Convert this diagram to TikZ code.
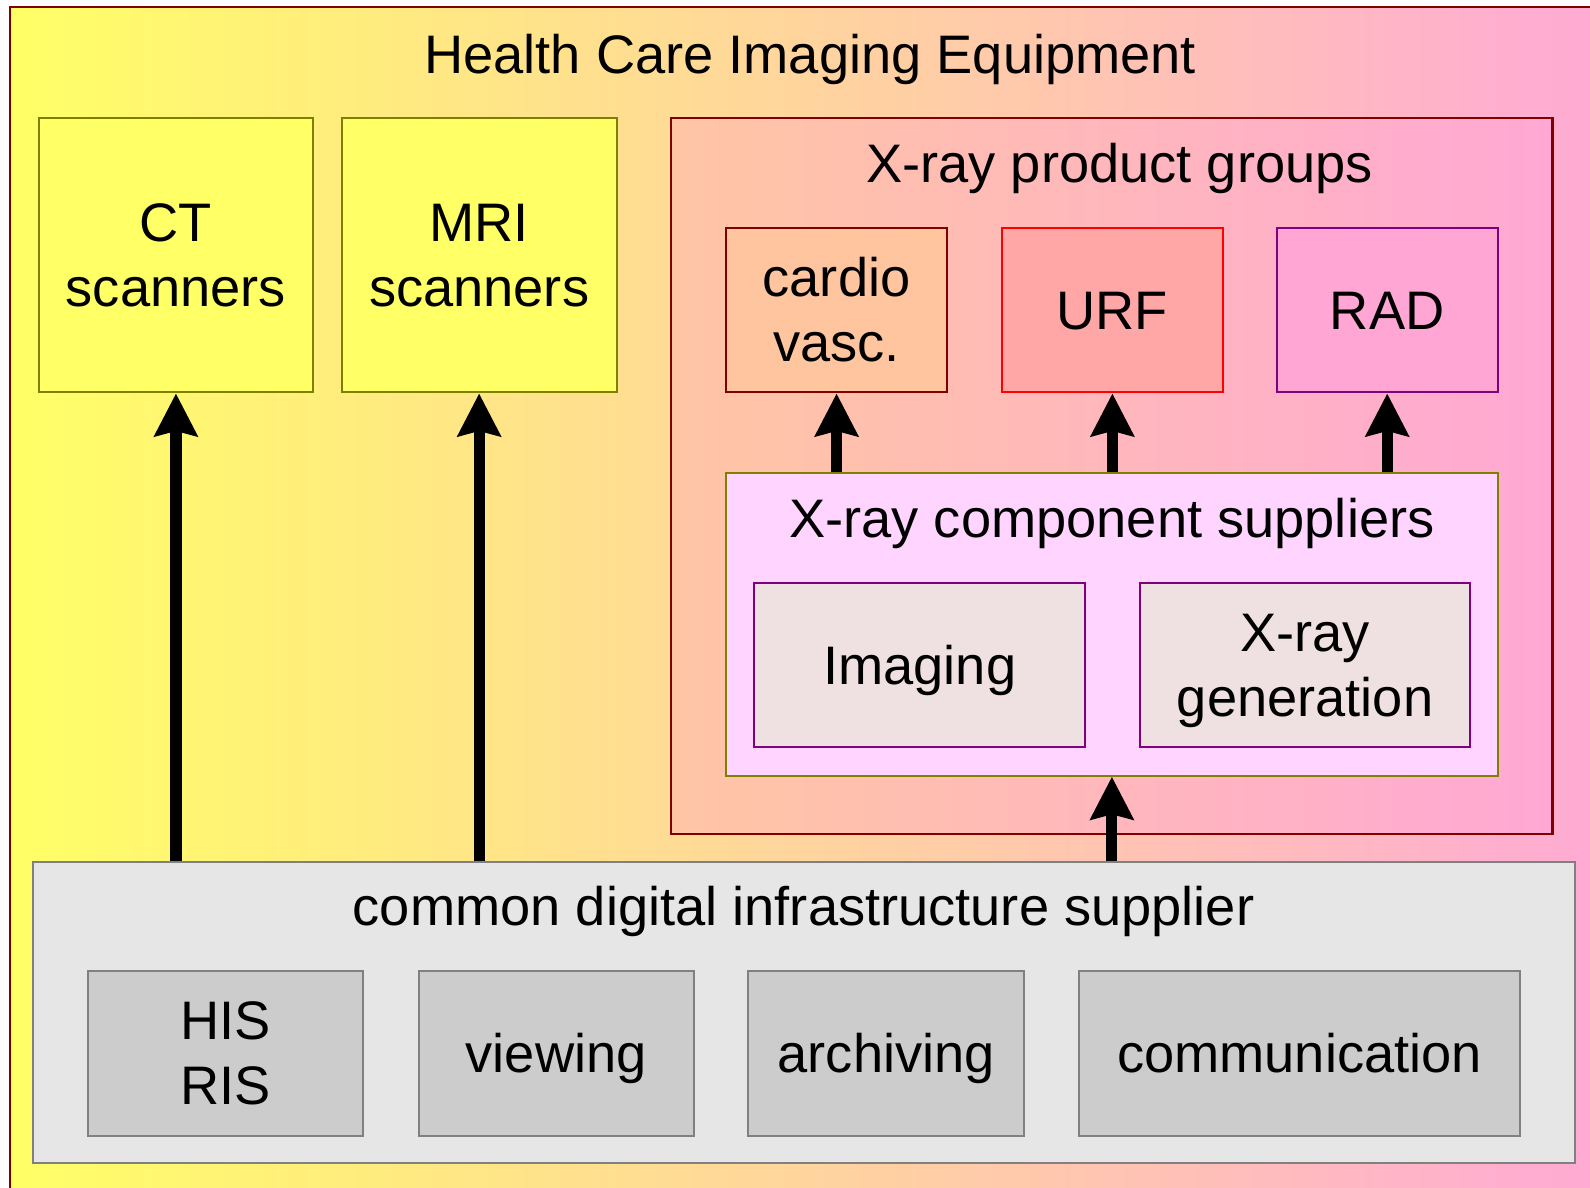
\documentclass[tikz,border=0pt]{standalone}
\usepackage{fontspec}
\setmainfont{Liberation Sans}
\usetikzlibrary{arrows.meta}
\definecolor{frameRed}{HTML}{800000}
\definecolor{olive}{HTML}{808000}
\definecolor{purp}{HTML}{800080}
\definecolor{grayB}{HTML}{808080}
\definecolor{yel}{HTML}{FFFF66}
\definecolor{pnk}{HTML}{FFAAD4}
\definecolor{peach}{HTML}{FFC6A4}
\definecolor{pnkB}{HTML}{FFA8D4}
\definecolor{cardioF}{HTML}{FFC59E}
\definecolor{urfF}{HTML}{FFA6A6}
\definecolor{radF}{HTML}{FFA6D4}
\definecolor{compF}{HTML}{FFD5FF}
\definecolor{imgF}{HTML}{EFE1E1}
\definecolor{commonF}{HTML}{E6E6E6}
\definecolor{subF}{HTML}{CCCCCC}
\tikzset{
  box/.style={draw, line width=2pt, inner sep=0pt, align=center},
  txt/.style={text height=48.4pt, text depth=11.3pt},
  txttwo/.style={text height=112.4pt, text depth=11.3pt},
  lbl/.style={inner sep=0pt, anchor=base},
  arr/.style={line width=11pt, -{Stealth[length=42pt,width=42pt,inset=5pt]}},
}
\begin{document}
\begin{tikzpicture}[x=1pt,y=-1pt,font=\fontsize{53.5}{64}\selectfont]
\useasboundingbox (0,0) rectangle (1568,1171);
\clip (0,0) rectangle (1568,1171);
% outer frame
\path[draw=frameRed, line width=2pt, left color=yel, right color=pnk] (10,7) rectangle (1575,1185);
\node[lbl] (title) at (799,72) {Health Care Imaging Equipment};
% scanners
\node[box, txttwo, draw=olive, fill=yel, minimum width=271pt, minimum height=271pt] (ct) at (173.5,251.5) {CT\\scanners};
\node[box, txttwo, draw=olive, fill=yel, minimum width=271pt, minimum height=271pt] (mri) at (472.5,251.5) {MRI\\scanners};
% X-ray product groups
\node[box, draw=frameRed, left color=peach, right color=pnkB, minimum width=869pt, minimum height=706pt] (groups) at (1096.5,469) {};
\node[lbl] (groupslbl) at (1104,180) {X-ray product groups};
\node[box, txttwo, draw=frameRed, fill=cardioF, minimum width=218pt, minimum height=162pt] (cardio) at (825,306) {cardio\\vasc.};
\node[box, txt, draw=red, fill=urfF, minimum width=218pt, minimum height=162pt] (urf) at (1097,306) {URF};
\node[box, txt, draw=purp, fill=radF, minimum width=218pt, minimum height=162pt] (rad) at (1368,306) {RAD};
% component suppliers
\node[box, draw=olive, fill=compF, minimum width=761pt, minimum height=299pt] (comp) at (1096.5,615.5) {};
\node[lbl] (complbl) at (1096.5,530) {X-ray component suppliers};
\node[box, txt, draw=purp, fill=imgF, minimum width=326pt, minimum height=162pt] (imaging) at (907,656) {Imaging};
\node[box, txttwo, draw=purp, fill=imgF, minimum width=326pt, minimum height=162pt] (xgen) at (1287,656) {X-ray\\generation};
% common infrastructure
\node[box, draw=grayB, fill=commonF, minimum width=1520pt, minimum height=297pt] (common) at (793,998.5) {};
\node[lbl] (commonlbl) at (792.5,913) {common digital infrastructure supplier};
\node[box, txttwo, draw=grayB, fill=subF, minimum width=271pt, minimum height=162pt] (his) at (222.5,1039) {HIS\\RIS};
\node[box, txt, draw=grayB, fill=subF, minimum width=271pt, minimum height=162pt] (view) at (548.5,1039) {viewing};
\node[box, txt, draw=grayB, fill=subF, minimum width=272pt, minimum height=162pt] (arch) at (874,1039) {archiving};
\node[box, txt, draw=grayB, fill=subF, minimum width=435pt, minimum height=162pt] (comm) at (1281.5,1039) {communication};
% arrows
\draw[arr] (ct.south |- common.north) -- (ct.south);
\draw[arr] (mri.south |- common.north) -- (mri.south);
\draw[arr] (comp.south |- common.north) -- (comp.south);
\draw[arr] (cardio.south |- comp.north) -- (cardio.south);
\draw[arr] (urf.south |- comp.north) -- (urf.south);
\draw[arr] (rad.south |- comp.north) -- (rad.south);
\end{tikzpicture}
\end{document}
